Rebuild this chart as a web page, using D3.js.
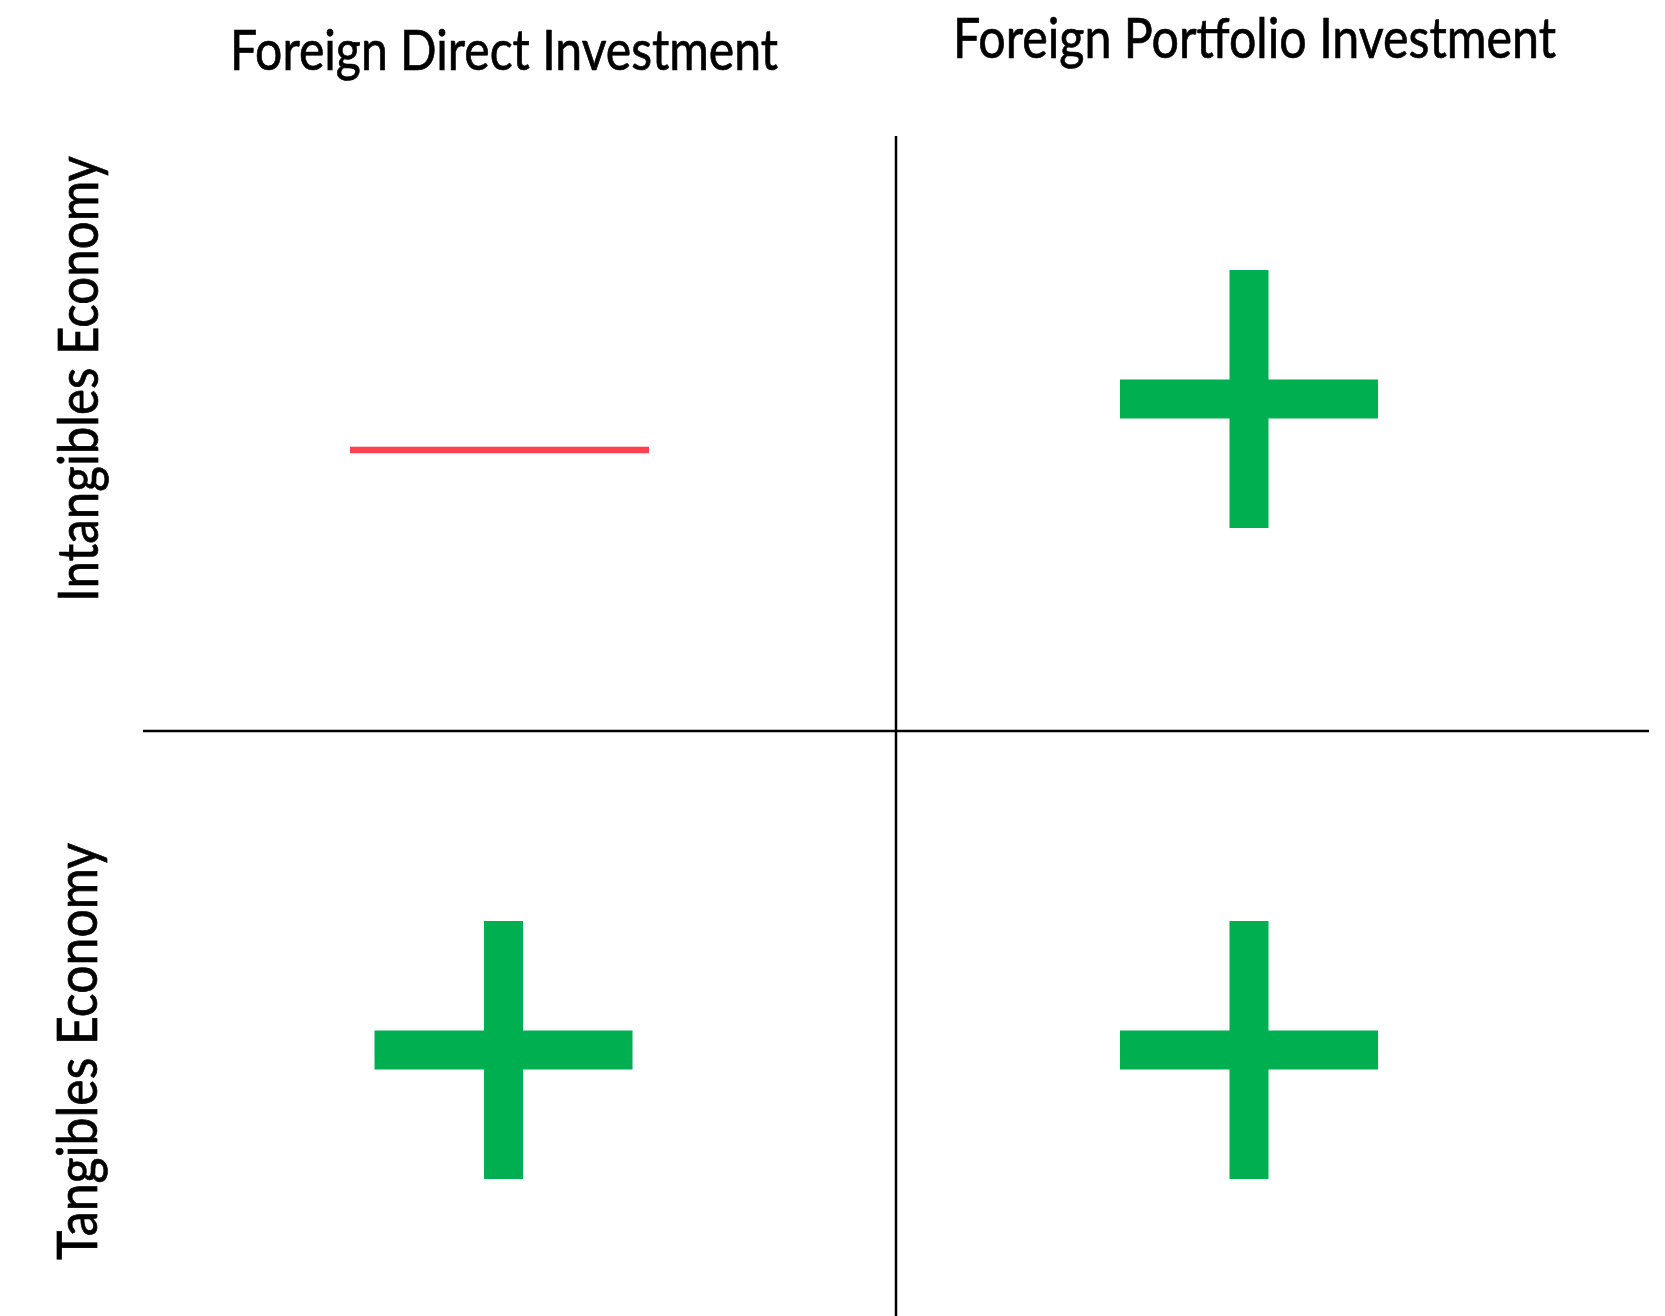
<!DOCTYPE html>
<html>
<head>
<meta charset="utf-8">
<script src="https://cdn.jsdelivr.net/npm/d3@7"></script>
<style>
  html, body { margin: 0; padding: 0; background: #fff; }
  .quadrant text { font-family: Lato, "Open Sans", sans-serif; fill: #000; stroke: #000; stroke-width: 0.7px; }
</style>
</head>
<body>
<div class="quadrant"></div>
<script>

// Column and row categories
const columns = ["Foreign Direct Investment", "Foreign Portfolio Investment"];
const rows = ["Intangibles Economy", "Tangibles Economy"];

// Effect sign per cell: +1 positive, -1 negative
const effectFDI = [-1, 1];
const effectFPI = [1, 1];

const signColor = { "1": "#00b050", "-1": "#ff414f" };

function setupQuadrantChart() {
    const width = 1665;
    const height = 1316;
    const frame = {'left': 143, 'right': 1649, 'top': 136, 'bottom': 1316};
    const divider = {'x': 896, 'y': 731};

    // Mark centres for each column / row
    const x = d3.scalePoint().domain(columns).range([503.5, 1249]);
    const y = d3.scalePoint().domain(rows).range([399, 1050]);

    const svg = d3.select('.quadrant')
      .append('svg')
      .attr('width', width)
      .attr('height', height);

    return { svg, x, y, frame, divider };
}

function drawFrame(chart) {
    const g = chart.svg.append('g').attr('class', 'frame');
    g.append('line')
        .attr('x1', chart.divider.x).attr('x2', chart.divider.x)
        .attr('y1', chart.frame.top).attr('y2', chart.frame.bottom)
        .attr('stroke', '#000').attr('stroke-width', 2.5);
    g.append('line')
        .attr('x1', chart.frame.left).attr('x2', chart.frame.right)
        .attr('y1', chart.divider.y).attr('y2', chart.divider.y)
        .attr('stroke', '#000').attr('stroke-width', 2.5);
}

function drawLabels(chart) {
    // header placement (left edge, baseline, fitted width)
    const header = [
        {x: 230, y: 70, w: 548},
        {x: 953, y: 58, w: 603}
    ];
    chart.svg.append('g').selectAll('text')
        .data(columns)
        .enter().append('text')
          .attr('x', (d, i) => header[i].x)
          .attr('y', (d, i) => header[i].y)
          .attr('textLength', (d, i) => header[i].w)
          .attr('lengthAdjust', 'spacingAndGlyphs')
          .style('font-size', '56px')
          .text(d => d);

    const side = [
        {x: 98, y: 602, w: 446},
        {x: 97, y: 1260, w: 417}
    ];
    chart.svg.append('g').selectAll('text')
        .data(rows)
        .enter().append('text')
          .attr('transform', (d, i) => `translate(${side[i].x}, ${side[i].y}) rotate(-90)`)
          .attr('textLength', (d, i) => side[i].w)
          .attr('lengthAdjust', 'spacingAndGlyphs')
          .style('font-size', '56px')
          .text(d => d);
}

function drawSigns(chart) {
    const cells = [];
    rows.forEach((r, i) => {
        cells.push({col: columns[0], row: r, sign: effectFDI[i]});
        cells.push({col: columns[1], row: r, sign: effectFPI[i]});
    });

    const arm = 258, thick = 39;        // plus sign
    const dash = 299, dashThick = 6.5;  // minus sign
    const dashDx = -4, dashDy = 51;

    const g = chart.svg.append('g').attr('class', 'signs');
    const sign = g.selectAll('g')
        .data(cells)
        .enter().append('g')
          .attr('transform', d => `translate(${chart.x(d.col)}, ${chart.y(d.row)})`);

    const plus = sign.filter(d => d.sign > 0);
    plus.append('rect')
        .attr('x', -arm / 2).attr('y', -thick / 2)
        .attr('width', arm).attr('height', thick)
        .attr('fill', d => signColor[d.sign]);
    plus.append('rect')
        .attr('x', -thick / 2).attr('y', -arm / 2)
        .attr('width', thick).attr('height', arm)
        .attr('fill', d => signColor[d.sign]);

    sign.filter(d => d.sign < 0).append('rect')
        .attr('x', dashDx - dash / 2).attr('y', dashDy - dashThick / 2)
        .attr('width', dash).attr('height', dashThick)
        .attr('fill', d => signColor[d.sign]);
}

const chart = setupQuadrantChart();
drawFrame(chart);
drawLabels(chart);
drawSigns(chart);
</script>
</body>
</html>
